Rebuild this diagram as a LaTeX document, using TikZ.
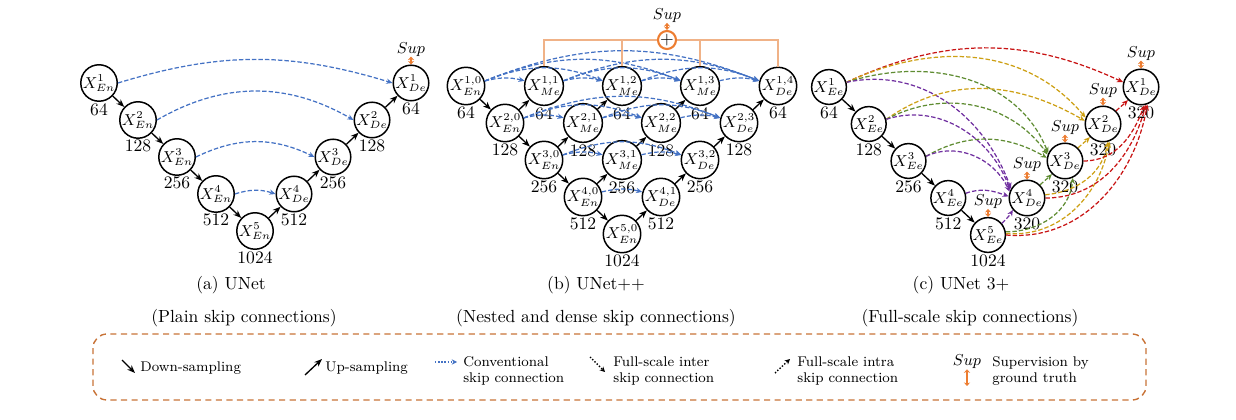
\documentclass[tikz,border=0pt]{standalone}
\usetikzlibrary{arrows.meta, positioning, calc}

\definecolor{skipblue}{RGB}{68,114,196}
\definecolor{suporange}{RGB}{237,125,49}
\definecolor{sumorange}{RGB}{240,178,135}
\definecolor{boxorange}{RGB}{200,115,55}
\definecolor{fsred}{RGB}{200,20,20}
\definecolor{fsgold}{RGB}{205,160,20}
\definecolor{fsgreen}{RGB}{95,140,50}
\definecolor{fspurple}{RGB}{112,48,160}

\begin{document}
\begin{tikzpicture}[
    x=0.02cm, y=0.02cm, label distance=0.5pt,
    unit/.style={circle, draw, line width=0.85pt, minimum size=0.64cm,
                 inner sep=0pt, font=\small},
    chan/.style={inner sep=0pt, font=\normalsize},
    sample/.style={-{Stealth[length=4.5pt,width=3.5pt]}, line width=0.75pt},
    skiparc/.style={-{Stealth[length=3.5pt,width=3pt]}, skipblue, line width=0.7pt,
                    dash pattern=on 2.5pt off 1.2pt},
    fskip/.style={-{Stealth[length=3.5pt,width=3pt]}, #1, line width=0.7pt,
                  dash pattern=on 2.5pt off 1.2pt},
    supvis/.style={{Stealth[length=2pt,width=3.5pt]}-{Stealth[length=2pt,width=3.5pt]},
                   suporange, line width=1.6pt},
    suptxt/.style={font=\small, inner sep=0pt},
    sumline/.style={sumorange, line width=1pt},
    captxt/.style={font=\normalsize},
    legtxt/.style={font=\footnotesize, align=left, anchor=west, inner sep=0pt}
  ]
  \useasboundingbox (0,0) rectangle (1236,419);

  % (a) UNet
  \foreach \i/\c in {1/64, 2/128, 3/256, 4/512, 5/1024} {
    \node[unit, label={[chan]below:\c}] (ae\i) at ({99+39*(\i-1)}, {336-37*(\i-1)}) {$X^{\i}_{En}$};
  }
  \foreach \i/\c in {1/64, 2/128, 3/256, 4/512} {
    \node[unit, label={[chan]below:\c}] (ad\i) at ({411-39*(\i-1)}, {336-37*(\i-1)}) {$X^{\i}_{De}$};
  }
  \foreach \i [count=\n from 2] in {1,...,4} {
    \draw[sample] (ae\i) -- (ae\n);
  }
  \draw[sample] (ae5) -- (ad4);
  \foreach \i [count=\n from 2] in {1,...,3} {
    \draw[sample] (ad\n) -- (ad\i);
  }
  \foreach \i/\b in {1/17, 2/30, 3/26, 4/18} {
    \draw[skiparc] (ae\i.east) to[bend left=\b] (ad\i.west);
  }
  \node[suptxt, above=4.5pt of ad1] (asup) {$Sup$};
  \draw[supvis] (ad1.north) -- (asup.south);

  % (b) UNet++
  \foreach \i/\c in {1/64, 2/128, 3/256, 4/512, 5/1024} {
    \pgfmathtruncatemacro{\jmax}{5-\i}
    \foreach \j in {0,...,\jmax} {
      \pgfmathtruncatemacro{\lv}{\i+\j}
      \def\sfx{Me}
      \ifnum\lv=5 \def\sfx{De}\fi
      \ifnum\j=0 \def\sfx{En}\fi
      \node[unit, label={[chan]below:\c}] (b\i\j) at ({466+39*(\i-1)+78*\j}, {333-37*(\i-1)}) {$X^{\i,\j}_{\sfx}$};
    }
  }
  \foreach \i [count=\n from 2] in {1,...,4} {
    \draw[sample] (b\i0) -- (b\n0);
  }
  \foreach \i in {2,...,5} {
    \pgfmathtruncatemacro{\jmax}{5-\i}
    \pgfmathtruncatemacro{\ui}{\i-1}
    \foreach \j in {0,...,\jmax} {
      \pgfmathtruncatemacro{\uj}{\j+1}
      \draw[sample] (b\i\j) -- (b\ui\uj);
    }
  }
  \foreach \i in {1,...,4} {
    \pgfmathtruncatemacro{\jmax}{5-\i}
    \foreach \j in {1,...,\jmax} {
      \pgfmathtruncatemacro{\kmax}{\j-1}
      \foreach \k in {0,...,\kmax} {
        \pgfmathtruncatemacro{\bnd}{(\j-\k==1) ? 14 : 22}
        \draw[skiparc] (b\i\k.15) to[bend left=\bnd] (b\i\j.165);
      }
    }
  }
  \node[circle, draw=suporange, line width=1.2pt, minimum size=0.36cm, inner sep=0pt] (bsum) at (667,379) {$+$};
  \draw[sumline] (bsum.west) -| (b11.north);
  \draw[sumline] (bsum.west) -| (b12.north);
  \draw[sumline] (bsum.east) -| (b13.north);
  \draw[sumline] (bsum.east) -| (b14.north);
  \node[suptxt, above=4pt of bsum] (bsup) {$Sup$};
  \draw[supvis] (bsum.north) -- (bsup.south);

  % (c) UNet 3+
  \foreach \i/\c in {1/64, 2/128, 3/256, 4/512, 5/1024} {
    \node[unit, label={[chan]below:\c}] (ce\i) at ({829+39.75*(\i-1)}, {332-37*(\i-1)}) {$X^{\i}_{Ee}$};
  }
  \foreach \i in {1,...,4} {
    \node[unit, label={[chan]below:320}] (cd\i) at ({1141-38*(\i-1)}, {332-37*(\i-1)}) {$X^{\i}_{De}$};
  }
  \foreach \i [count=\n from 2] in {1,...,4} {
    \draw[sample] (ce\i) -- (ce\n);
  }
  % full-scale inter skips
  \foreach \k/\j/\ao/\ai/\tg/\col in {1/1/25/155/165/fsred, 1/2/25/130/160/fsgold,
      1/3/18/112/155/fsgreen, 1/4/12/110/150/fspurple, 2/2/35/150/170/fsgold,
      2/3/28/125/160/fsgreen, 2/4/18/110/155/fspurple, 3/3/30/150/170/fsgreen,
      3/4/25/115/160/fspurple, 4/4/20/160/175/fspurple} {
    \draw[fskip=\col] (ce\k.15) to[out=\ao, in=\ai] (cd\j.\tg);
  }
  % full-scale intra skips
  \foreach \src/\dst/\sa/\ta/\ao/\ai/\col in {
      ce5/cd4/40/220/45/-120/fspurple, ce5/cd3/10/-65/0/-95/fsgreen,
      ce5/cd2/5/-70/-5/-100/fsgold, ce5/cd1/0/-70/-5/-100/fsred,
      cd4/cd3/45/225/45/-135/fsgreen, cd4/cd2/10/-75/5/-100/fsgold,
      cd4/cd1/0/-75/0/-105/fsred, cd3/cd2/45/225/45/-135/fsgold,
      cd3/cd1/0/-80/0/-110/fsred, cd2/cd1/45/225/45/-135/fsred} {
    \draw[fskip=\col] (\src.\sa) to[out=\ao, in=\ai] (\dst.\ta);
  }
  \foreach \n in {cd1, cd2, cd3, cd4, ce5} {
    \node[suptxt, above=4.5pt of \n] (s\n) {$Sup$};
    \draw[supvis] (\n.north) -- (s\n.south);
  }

  % captions
  \node[captxt] (acap) at (231,134) {(a) UNet};
  \node[captxt] (asub) at (244,101) {(Plain skip connections)};
  \node[captxt] (bcap) at (596,134) {(b) UNet++};
  \node[captxt] (bsub) at (596,101) {(Nested and dense skip connections)};
  \node[captxt] (ccap) at (961,134) {(c) UNet 3+};
  \node[captxt] (csub) at (970,101) {(Full-scale skip connections)};

  % legend
  \draw[boxorange, line width=0.8pt, dash pattern=on 3.5pt off 2.5pt,
        rounded corners=8pt] (93,85) rectangle (1146,19);
  \coordinate (ldn0) at (122,59);
  \coordinate (ldn1) at (135,46);
  \draw[sample] (ldn0) -- (ldn1);
  \node[legtxt] (ldn) at (140,51) {Down-sampling};
  \coordinate (lup0) at (305,44);
  \coordinate (lup1) at (322,60);
  \draw[sample] (lup0) -- (lup1);
  \node[legtxt] (lup) at (325,51) {Up-sampling};
  \coordinate (lcv0) at (435,57);
  \coordinate (lcv1) at (457,57);
  \draw[skipblue, densely dotted, line width=0.8pt, -{Stealth[length=3pt,width=3pt]}] (lcv0) -- (lcv1);
  \node[legtxt] (lcv) at (463,48) {Conventional\\skip connection};
  \coordinate (lit0) at (590,62);
  \coordinate (lit1) at (605,47);
  \draw[densely dotted, line width=0.8pt, -{Stealth[length=3pt,width=3pt]}] (lit0) -- (lit1);
  \node[legtxt] (lit) at (613,48) {Full-scale inter\\skip connection};
  \coordinate (lia0) at (775,46);
  \coordinate (lia1) at (790,60);
  \draw[densely dotted, line width=0.8pt, -{Stealth[length=3pt,width=3pt]}] (lia0) -- (lia1);
  \node[legtxt] (lia) at (797,48) {Full-scale intra\\skip connection};
  \node[suptxt] (lsup) at (967,57) {$Sup$};
  \coordinate (lsv) at (967,33);
  \draw[supvis] (lsup.south) -- (lsv);
  \node[legtxt] (lsvt) at (992,48) {Supervision by\\ground truth};
\end{tikzpicture}
\end{document}
